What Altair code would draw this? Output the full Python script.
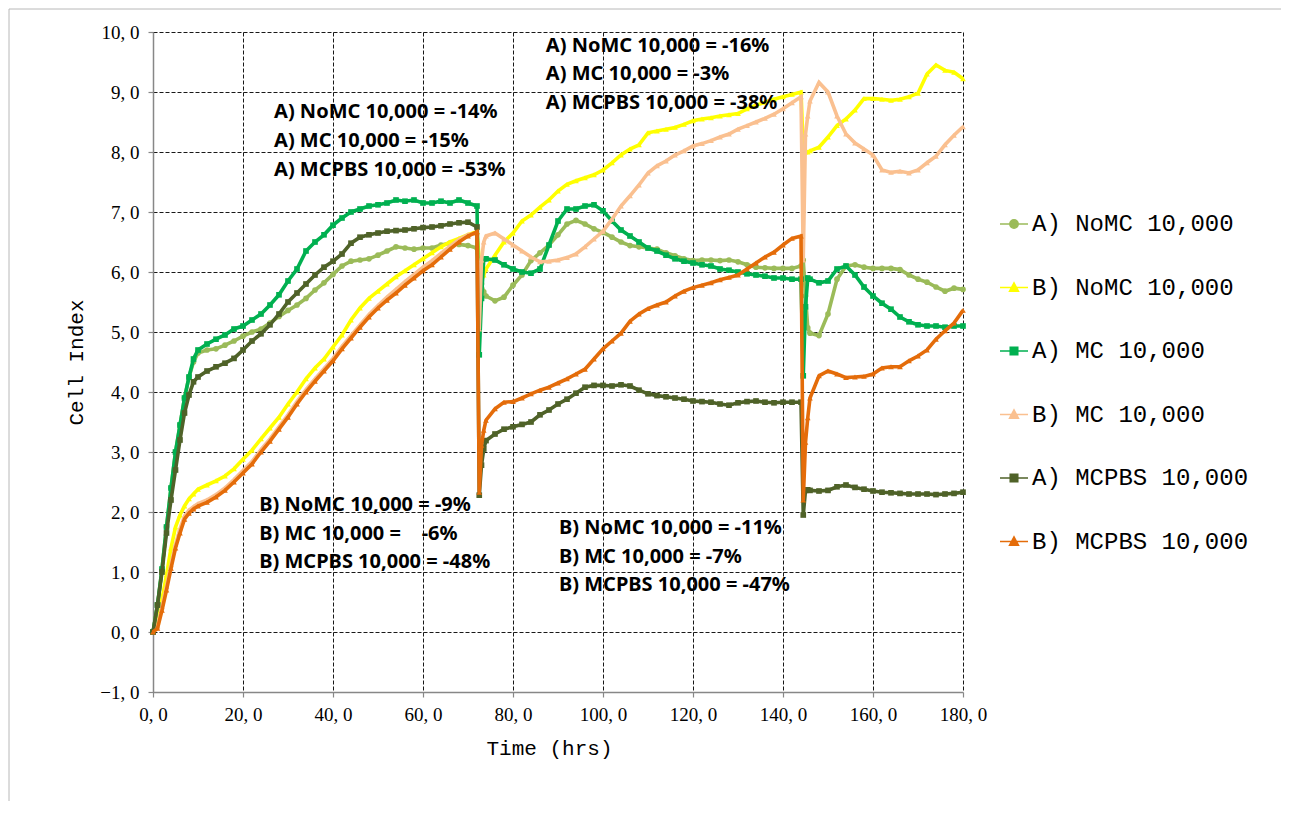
import altair as alt
import pandas as pd

# ---------------- data ----------------
TIME = [0, 1, 2, 3, 4, 5, 6, 7, 8, 9,
        10, 12, 14, 16, 18, 20, 22, 24, 26, 28, 30, 32, 34, 36, 38, 40, 42, 44, 46, 48,
        50, 52, 54, 56, 58, 60, 62, 64, 66, 68, 70,
        72, 72.5, 73, 73.5,
        74, 76, 78, 80, 82, 84, 86, 88, 90, 92, 94, 96, 98, 100, 102, 104, 106, 108,
        110, 112, 114, 116, 118, 120, 122, 124, 126, 128, 130, 132, 134, 136, 138, 140, 142,
        144, 144.5, 145, 145.5,
        146, 148, 150, 152, 154, 156, 158, 160, 162, 164, 166, 168, 170, 172, 174, 176, 178, 180]

A_NOMC = [0, 0.45, 1.05, 1.75, 2.4, 3.0, 3.45, 3.9, 4.25, 4.5,
          4.65, 4.7, 4.72, 4.78, 4.85, 4.93, 5.0, 5.05, 5.15, 5.26, 5.36, 5.45, 5.56, 5.7, 5.82,
          5.96, 6.1, 6.18, 6.2, 6.22, 6.28, 6.35, 6.42, 6.4, 6.38, 6.4, 6.4, 6.45, 6.48, 6.46, 6.44,
          6.4, 6.0, 5.8, 5.67,
          5.6, 5.52, 5.58, 5.78, 5.95, 6.19, 6.32, 6.45, 6.62, 6.8, 6.86, 6.8, 6.72, 6.66, 6.58,
          6.5, 6.44, 6.42, 6.4, 6.38, 6.32, 6.27, 6.22, 6.19, 6.2, 6.2, 6.19, 6.2, 6.17, 6.12,
          6.08, 6.07, 6.06, 6.06, 6.06,
          6.1, 6.2, 5.6, 5.07,
          4.98, 4.94, 5.3, 5.88, 6.1, 6.12, 6.08, 6.06, 6.06, 6.06, 6.04, 5.95, 5.88, 5.83, 5.75,
          5.68, 5.73, 5.71]

B_NOMC = [0, 0.17, 0.55, 0.95, 1.4, 1.75, 1.95, 2.1, 2.22, 2.3,
          2.38, 2.45, 2.52, 2.6, 2.72, 2.88, 3.03, 3.22, 3.4, 3.58, 3.8, 4.0, 4.22, 4.4, 4.55,
          4.75, 4.95, 5.2, 5.4, 5.56, 5.68, 5.8, 5.92, 6.02, 6.12, 6.22, 6.32, 6.42, 6.5, 6.56, 6.62,
          6.67, 6.2, 6.0, 5.95,
          6.05, 6.28, 6.5, 6.65, 6.85, 6.95, 7.08, 7.2, 7.35, 7.46, 7.52, 7.57, 7.62, 7.7, 7.82,
          7.95, 8.05, 8.12, 8.32, 8.35, 8.38, 8.41, 8.46, 8.52, 8.55, 8.57, 8.6, 8.62, 8.64, 8.72,
          8.78, 8.83, 8.88, 8.92, 8.96,
          9.0, 8.06, 8.0, 8.0,
          8.02, 8.08, 8.25, 8.44, 8.55, 8.7, 8.89, 8.89, 8.88, 8.86, 8.88, 8.92, 8.98, 9.3, 9.45,
          9.36, 9.33, 9.22]

A_MC = [0, 0.45, 1.05, 1.75, 2.4, 3.0, 3.45, 3.9, 4.25, 4.55,
        4.7, 4.8, 4.88, 4.95, 5.05, 5.1, 5.2, 5.3, 5.45, 5.62, 5.85, 6.05, 6.35, 6.5, 6.62,
        6.78, 6.9, 7.0, 7.05, 7.1, 7.12, 7.15, 7.2, 7.18, 7.2, 7.15, 7.15, 7.18, 7.15, 7.2, 7.15,
        7.1, 4.62, 5.56, 6.22,
        6.22, 6.2, 6.12, 6.05, 6.0, 5.98, 6.05, 6.45, 6.85, 7.05, 7.05, 7.1, 7.12, 7.02, 6.85,
        6.7, 6.6, 6.5, 6.4, 6.35, 6.28, 6.22, 6.18, 6.15, 6.12, 6.1, 6.05, 6.03, 6.0, 5.97,
        5.95, 5.93, 5.9, 5.9, 5.88,
        5.88, 4.27, 5.42, 5.9,
        5.88, 5.82, 5.85, 6.05, 6.1, 5.95, 5.75, 5.6, 5.48, 5.38, 5.25, 5.17, 5.12, 5.1, 5.1,
        5.08, 5.1, 5.1]

B_MC = [0, 0.1, 0.42, 0.76, 1.12, 1.46, 1.72, 1.93, 2.03, 2.09,
        2.14, 2.2, 2.29, 2.4, 2.54, 2.69, 2.84, 3.04, 3.22, 3.42, 3.62, 3.84, 4.04, 4.22, 4.39,
        4.56, 4.76, 4.94, 5.12, 5.29, 5.44, 5.58, 5.71, 5.84, 5.96, 6.08, 6.19, 6.31, 6.43, 6.54, 6.62,
        6.64, 5.05, 6.2, 6.5,
        6.6, 6.65, 6.55, 6.45, 6.35, 6.25, 6.17, 6.18, 6.2, 6.24, 6.3, 6.42, 6.55, 6.68, 6.88,
        7.1, 7.27, 7.45, 7.65, 7.77, 7.85, 7.95, 8.02, 8.1, 8.14, 8.19, 8.25, 8.3, 8.38, 8.44,
        8.5, 8.56, 8.63, 8.72, 8.82,
        8.92, 6.2, 8.3, 8.6,
        8.85, 9.16, 9.0, 8.6, 8.3, 8.15, 8.05, 7.95, 7.7, 7.66, 7.68, 7.65, 7.7, 7.82, 7.93,
        8.12, 8.28, 8.42]

A_MCPBS = [0, 0.45, 1.0, 1.65, 2.2, 2.7, 3.2, 3.65, 3.95, 4.17,
           4.25, 4.35, 4.42, 4.48, 4.56, 4.7, 4.85, 4.97, 5.12, 5.3, 5.5, 5.65, 5.8, 5.95, 6.08,
           6.18, 6.3, 6.48, 6.58, 6.62, 6.65, 6.68, 6.69, 6.7, 6.72, 6.74, 6.75, 6.77, 6.8, 6.82, 6.83,
           6.75, 2.28, 2.78, 3.05,
           3.19, 3.3, 3.38, 3.42, 3.46, 3.5, 3.62, 3.7, 3.8, 3.88, 3.98, 4.08, 4.11, 4.11, 4.1,
           4.12, 4.1, 4.03, 3.97, 3.94, 3.92, 3.9, 3.88, 3.85, 3.84, 3.83, 3.8, 3.78, 3.82, 3.84,
           3.85, 3.83, 3.82, 3.83, 3.83,
           3.83, 1.95, 2.36, 2.37,
           2.36, 2.35, 2.36, 2.42, 2.45, 2.41, 2.38, 2.35, 2.33, 2.32, 2.31, 2.3, 2.3, 2.3, 2.29,
           2.3, 2.31, 2.33]

B_MCPBS = [0, 0.06, 0.36, 0.7, 1.06, 1.4, 1.65, 1.88, 1.98, 2.05,
           2.1, 2.16, 2.25, 2.36, 2.5, 2.65, 2.8, 3.0, 3.18, 3.38, 3.58, 3.8, 4.0, 4.18, 4.35,
           4.52, 4.72, 4.9, 5.08, 5.25, 5.4, 5.53, 5.65, 5.78, 5.9, 6.02, 6.12, 6.25, 6.38, 6.5, 6.6,
           6.67, 2.33, 3.11, 3.36,
           3.53, 3.72, 3.83, 3.84, 3.9, 3.97, 4.03, 4.08, 4.15, 4.22, 4.3, 4.38, 4.55, 4.72, 4.85,
           4.98, 5.18, 5.3, 5.39, 5.45, 5.5, 5.6, 5.68, 5.74, 5.78, 5.82, 5.87, 5.91, 5.95, 6.05,
           6.15, 6.25, 6.33, 6.45, 6.56,
           6.6, 2.2, 3.16, 3.57,
           3.9, 4.27, 4.35, 4.3, 4.24, 4.25, 4.26, 4.3, 4.4, 4.42, 4.42, 4.52, 4.6, 4.7, 4.88,
           5.02, 5.15, 5.36]

SERIES = ["A) NoMC 10,000", "B) NoMC 10,000", "A) MC 10,000",
          "B) MC 10,000", "A) MCPBS 10,000", "B) MCPBS 10,000"]
VALUES = [A_NOMC, B_NOMC, A_MC, B_MC, A_MCPBS, B_MCPBS]
COLORS = ["#9BBB59", "#FFFF00", "#00B050", "#FAC090", "#4F6228", "#E46C0A"]
SHAPES = ["circle", "triangle-up", "square", "triangle-up", "square", "triangle-up"]

NB = "\u00a0"
ANNOT_TEXT = ["A) NoMC 10,000 = -14%", "A) MC 10,000 = -15%", "A) MCPBS 10,000 = -53%",
              "A) NoMC 10,000 = -16%", "A) MC 10,000 = -3%", "A) MCPBS 10,000 = -38%",
              "B) NoMC 10,000 = -9%", "B) MC 10,000 =" + NB * 4 + "-6%", "B) MCPBS 10,000 = -48%",
              "B) NoMC 10,000 = -11%", "B) MC 10,000 = -7%", "B) MCPBS 10,000 = -47%"]
ANNOT_T = [26.9, 26.9, 26.9, 87.3, 87.3, 87.3, 23.6, 23.6, 23.6, 90.2, 90.2, 90.2]
ANNOT_V = [8.67, 8.19, 7.7, 9.77, 9.3, 8.82, 2.12, 1.64, 1.17, 1.73, 1.25, 0.78]

X_TICKS = list(range(0, 181, 20))
Y_TICKS = list(range(-1, 11))

# ---------------- build tables ----------------
rows = []
for name, vals in zip(SERIES, VALUES):
    for t, v in zip(TIME, vals):
        rows.append({"t": t, "v": v, "series": name})
df = pd.DataFrame(rows)
annot = pd.DataFrame({"t": ANNOT_T, "v": ANNOT_V, "label": ANNOT_TEXT})
# legend rows sit outside the x domain, so they are clipped from the plot
legend_df = pd.DataFrame({"t": [-50] * len(SERIES), "v": [5] * len(SERIES), "series": SERIES})

LABEL_EXPR = "replace(format(datum.value, '.1f'), '.', ', ')"
axis_common = dict(
    labelExpr=LABEL_EXPR, labelFont="Liberation Serif", labelFontSize=19,
    labelColor="#000000", labelFlush=False, labelOverlap=False,
    tickSize=5, tickColor="#878787", tickWidth=1.2,
    domainColor="#878787", domainWidth=1.5,
    grid=True, gridColor="#000000", gridDash=[4, 2], gridWidth=1, gridOpacity=0.9,
    titleFont="Liberation Mono", titleFontSize=21, titleFontWeight="normal",
    titleColor="#000000",
)

x_enc = alt.X("t:Q", title="Time (hrs)",
              scale=alt.Scale(domain=[0, 180], nice=False, zero=False),
              axis=alt.Axis(values=X_TICKS, labelPadding=8, titleX=396, titleY=56,
                            titleBaseline="middle", **axis_common))
y_enc = alt.Y("v:Q", title="Cell Index",
              scale=alt.Scale(domain=[-1, 10], nice=False, zero=False),
              axis=alt.Axis(values=Y_TICKS, labelPadding=9, titleX=-77, titleY=330,
                            titleAngle=270, titleBaseline="middle", titleAlign="center",
                            **axis_common))

# legend symbols: a short line with the series marker on it
PATHS = {
    "circle": "M-1,0H1M-0.3,0A0.3,0.3,0,1,1,0.3,0A0.3,0.3,0,1,1,-0.3,0Z",
    "triangle-up": "M-1,0H1M0,-0.34L0.32,0.26L-0.32,0.26Z",
    "square": "M-1,0H1M-0.27,-0.27H0.27V0.27H-0.27Z",
}
LEGEND_PATHS = [PATHS[s] for s in SHAPES]

legend = alt.Legend(
    title=None, orient="none", legendX=846, legendY=177, padding=0,
    labelFont="Liberation Mono", labelFontSize=24, labelColor="#000000",
    labelLimit=400, labelOffset=3, symbolSize=784, rowPadding=36.5,
    symbolStrokeWidth=1.5, symbolOpacity=1,
)

layers = []
# outer frame of the figure (only its top and left edges are inside the picture)
frame_df = pd.DataFrame({"k": [0]})
layers.append(alt.Chart(frame_df).mark_rule(color="#b8b8b8", strokeWidth=1).encode(
    x=alt.value(-144), x2=alt.value(1128), y=alt.value(-23)))
layers.append(alt.Chart(frame_df).mark_rule(color="#b8b8b8", strokeWidth=1).encode(
    x=alt.value(-144), y=alt.value(-23), y2=alt.value(769)))

for name, shp, col in zip(SERIES, SHAPES, COLORS):
    sub = df[df["series"] == name]
    base = alt.Chart(sub)
    layers.append(base.mark_line(strokeWidth=3.6, color=col).encode(x=x_enc, y=y_enc))
    layers.append(base.mark_point(shape=shp, filled=True, size=32, opacity=1, color=col).encode(
        x=x_enc, y=y_enc))

legend_layer = alt.Chart(legend_df).mark_point(
    filled=True, clip=True, strokeWidth=1.5, opacity=1
).encode(
    x=x_enc, y=y_enc,
    color=alt.Color("series:N", scale=alt.Scale(domain=SERIES, range=COLORS), legend=legend),
    stroke=alt.Stroke("series:N", scale=alt.Scale(domain=SERIES, range=COLORS), legend=legend),
    shape=alt.Shape("series:N", scale=alt.Scale(domain=SERIES, range=LEGEND_PATHS), legend=legend),
)
layers.append(legend_layer)

text = alt.Chart(annot).mark_text(
    align="left", baseline="middle", font="Noto Sans", fontWeight="bold",
    fontSize=20, color="#000000"
).encode(x="t:Q", y="v:Q", text="label:N")
layers.append(text)

chart = alt.layer(*layers).properties(
    width=810, height=660, padding=0, background="#ffffff"
).configure_view(stroke=None)

chart.save("out.html", embed_options={"renderer": "svg", "actions": False})
